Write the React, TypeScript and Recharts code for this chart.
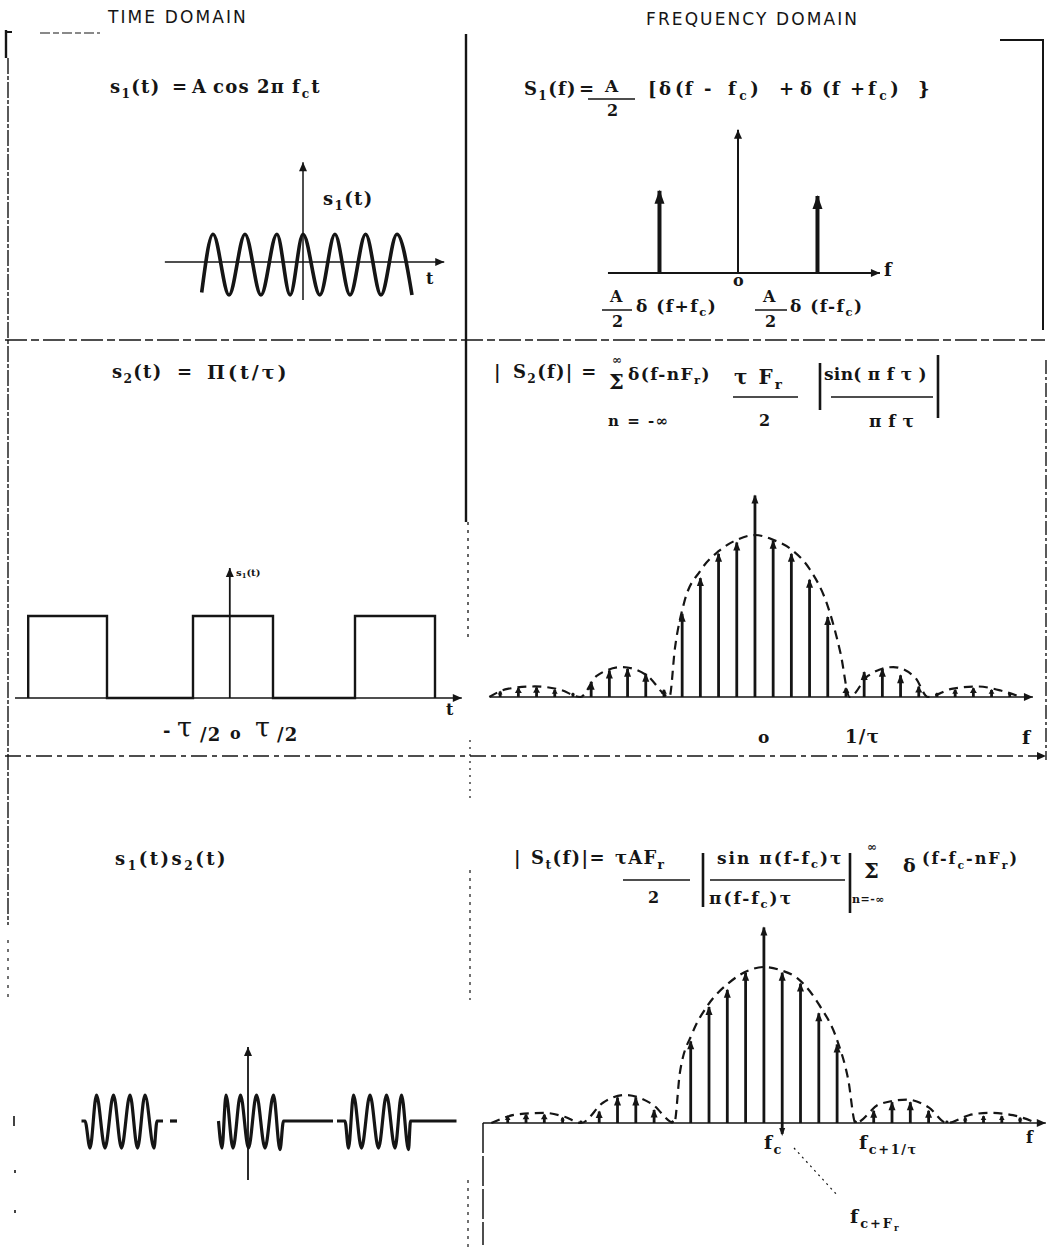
import React from "react";
import { Bar, ComposedChart, Line, XAxis, YAxis } from "recharts";

const INK = "#151515";
const SERIF = '"DejaVu Serif", "Liberation Serif", serif';
const SANS = '"DejaVu Sans", "Liberation Sans", sans-serif';

// ---- s1(t): carrier, t in carrier periods (0 = ordinate), amplitude in units of A
const carrierT = [-3.3, -2.93, -2.41, -1.89, -1.37, -0.85, -0.42, 0, 0.55, 1.04, 1.53, 2.04, 2.54, 3.06, 3.55];
const carrierV = [-1.1, 1, -1.19, 1, -1.19, 1, -1.19, 1, -1.19, 1, -1.19, 1, -1.19, 1, -1.19];
const carrierAxisT = [-4.5, 4.6];
const carrierAxisV = [-1.37, 3.6];

// ---- S1(f): two lines at -fc / +fc
const s1LineF = [-1, 1];
const s1LineA = [1.04, 0.975];
const s1AxisF = [-1.646, 1.797];
const s1AxisA = [0, 1.79];

// ---- s2(t): pulse train, t in units of tau
const pulseT = [-2.56, -2.56, -1.575, -1.575, -0.5, -0.5, 0.5, 0.5, 1.525, 1.525, 2.525, 2.525];
const pulseV = [0, 1, 1, 0, 0, 1, 1, 0, 0, 1, 1, 0];
const pulseAxisT = [-2.725, 2.86];
const pulseAxisV = [0, 1.585];

// ---- |S2(f)|: harmonic number n, relative amplitude
const harmonics = [-14, -13, -12, -11, -10, -9, -8, -7, -6, -5, -4, -3, -2, -1, 0, 1, 2, 3, 4, 5, 6, 7, 8, 9, 10, 11, 12, 13, 14];
const s2Amp = [0.04, 0.06, 0.065, 0.05, 0.03, 0.1, 0.17, 0.18, 0.15, 0.05, 0.52, 0.74, 0.89, 0.96, 1.25, 0.97, 0.89, 0.73, 0.5, 0.06, 0.16, 0.18, 0.14, 0.07, 0.03, 0.05, 0.06, 0.05, 0.03];
const s2EnvN = [-14.6, -13.6, -12.1, -10.7, -9.6, -8.7, -7.3, -5.9, -4.7, -4.4, -3.9, -3, -2, -1, 0, 1, 2, 3, 4, 4.7, 5.2, 6.2, 7.6, 8.8, 9.5, 10.8, 12.2, 13.5, 14.6];
const s2EnvA = [0, 0.05, 0.065, 0.045, 0, 0.13, 0.185, 0.13, 0, 0.3, 0.58, 0.78, 0.9, 0.97, 1, 0.97, 0.91, 0.79, 0.56, 0.27, 0, 0.13, 0.185, 0.12, 0, 0.05, 0.065, 0.04, 0];
const s2AxisN = [-14.56, 15.27];

// ---- s1(t)s2(t): gated carrier, t in tau/13
const burst1 = [[-33.3, 0], [-32.6, 0], [-31.6, -1.04], [-30.3, 1], [-28.6, -1.04], [-26.9, 1], [-25.3, -1.04], [-23.6, 1], [-22.1, -1.04], [-20.6, 1], [-18.8, -1.04], [-18.2, 0], [-17.0, 0]];
const gapDash = [[-15.6, 0], [-14.2, 0]];
const burst2 = [[-5.9, 0], [-5.2, -1.04], [-4.4, 1], [-3.0, -1.04], [-1.5, 1], [0.1, -1.04], [1.7, 1], [3.4, -1.04], [5.1, 1], [6.4, -1.1], [7.1, 0], [17.0, 0]];
const burst3 = [[17.8, 0], [19.4, 0], [20.1, -1.04], [21.1, 1], [22.7, -1.04], [24.4, 1], [26.1, -1.04], [27.7, 1], [29.4, -1.04], [30.7, 1], [32.1, -1.1], [32.5, 0], [41.7, 0]];
const burstAxisV = [-2.27, 2.85];

// ---- |St(f)|: lines around fc, n = (f - fc)/Fr
const stAmp = [0.05, 0.06, 0.06, 0.04, 0.02, 0.08, 0.17, 0.17, 0.09, 0.02, 0.53, 0.75, 0.86, 0.97, 1.26, 0.97, 0.9, 0.71, 0.51, 0.02, 0.085, 0.14, 0.14, 0.085, 0.02, 0.04, 0.05, 0.05, 0.04];
const stLow = [0, 0, 0, 0, 0, 0, 0, 0, 0, 0, 0, 0, 0, 0, 0, -0.07, 0, 0, 0, 0, 0, 0, 0, 0, 0, 0, 0, 0, 0];
const stEnvN = [-14.9, -13.5, -12, -10.9, -10, -8.8, -7.6, -6.1, -4.9, -4.6, -3.9, -3.1, -1.9, -0.8, 0, 0.9, 1.8, 3, 4, 4.6, 5, 6.3, 7.8, 9, 10, 11.2, 12.3, 13.6, 14.9];
const stEnvA = [0, 0.055, 0.065, 0.04, 0, 0.13, 0.18, 0.12, 0, 0.32, 0.58, 0.75, 0.9, 0.98, 1, 0.98, 0.93, 0.76, 0.53, 0.28, 0, 0.12, 0.15, 0.1, 0, 0.05, 0.065, 0.05, 0];
const stAxisN = [-15.36, 15.4];

const pts = (xs: number[], ys: number[]) => xs.map((x, i) => ({ x, y: ys[i] }));
const pairs = (p: number[][]) => p.map(([x, y]) => ({ x, y }));
const hLine = (xs: number[]) => xs.map((x) => ({ x, y: 0 }));
const vLine = (x: number, ys: number[]) => ys.map((y) => ({ x, y }));

function tip(dir: "up" | "right", n: number, len = 9, half = 4) {
  return (p: any) => {
    const { cx, cy, index } = p;
    if (index !== n - 1 || cx == null) return <g key={`d${index}`} />;
    const poly =
      dir === "right"
        ? `${cx},${cy} ${cx - len},${cy - half} ${cx - len},${cy + half}`
        : `${cx},${cy} ${cx - half},${cy + len} ${cx + half},${cy + len}`;
    return <polygon key="tip" points={poly} fill={INK} />;
  };
}

function spike(w: number, len: number, half: number) {
  return (p: any) => {
    const { x, y, width, height, payload } = p;
    if (x == null) return <g />;
    const cx = x + width / 2;
    const top = Math.min(y, y + height);
    const bot = Math.max(y, y + height);
    const l = Math.min(len, (bot - top) * 0.6);
    const h = Math.min(half, l * 0.6);
    return (
      <g>
        <line x1={cx} x2={cx} y1={top + 1} y2={bot} stroke={INK} strokeWidth={w} />
        <polygon points={`${cx},${top} ${cx - h},${top + l} ${cx + h},${top + l}`} fill={INK} />
        {payload.span[0] < 0 && (
          <polygon points={`${cx},${bot + 2} ${cx - 3},${bot - 6} ${cx + 3},${bot - 6}`} fill={INK} />
        )}
      </g>
    );
  };
}

type Box = { left: number; top: number; width: number; height: number };
type Map = { x0: number; xs: number; y0: number; ys: number };

function Panel({ box, map, data, children }: { box: Box; map: Map; data?: any[]; children: React.ReactNode }) {
  const { left, top, width, height } = box;
  const xDom = [(left - map.x0) / map.xs, (left + width - map.x0) / map.xs];
  const yDom = [(map.y0 - (top + height)) / map.ys, (map.y0 - top) / map.ys];
  return (
    <div style={{ position: "absolute", left, top, width, height }}>
      <ComposedChart width={width} height={height} data={data} margin={{ top: 0, right: 0, bottom: 0, left: 0 }}>
        <XAxis type="number" dataKey="x" domain={xDom} hide allowDataOverflow />
        <YAxis type="number" domain={yDom} hide allowDataOverflow />
        {children}
      </ComposedChart>
    </div>
  );
}

const Sb = ({ children }: { children: React.ReactNode }) => (
  <span style={{ fontSize: "0.68em", position: "relative", top: "0.4em" }}>{children}</span>
);

function T({ x, y, s = 18, sans, italic, ls, w, children }: any) {
  return (
    <div
      style={{
        position: "absolute",
        left: x,
        top: y - 0.55 * s,
        fontSize: s,
        lineHeight: `${s}px`,
        fontFamily: sans ? SANS : SERIF,
        fontWeight: w ?? (sans ? 400 : 700),
        fontStyle: italic ? "italic" : "normal",
        letterSpacing: ls ?? (sans ? 0 : 1.3),
        whiteSpace: "pre",
        color: INK,
      }}
    >
      {children}
    </div>
  );
}

const axisLine = (data: any[], dir: "up" | "right", sw = 1.8) => (
  <Line
    data={data}
    dataKey="y"
    type="linear"
    stroke={INK}
    strokeWidth={sw}
    dot={tip(dir, data.length)}
    activeDot={false}
    isAnimationActive={false}
  />
);

export default function App() {
  const s2Spikes = harmonics.map((x, i) => ({ x, span: [0, s2Amp[i]] }));
  const stSpikes = harmonics.map((x, i) => ({ x, span: [stLow[i], stAmp[i]] }));
  const s1Spikes = s1LineF.map((x, i) => ({ x, span: [0, s1LineA[i]] }));

  return (
    <div style={{ position: "absolute", left: 0, top: 0, width: 1051, height: 1255, background: "#fff", overflow: "hidden" }}>
      <svg width={1051} height={1255} style={{ position: "absolute", left: 0, top: 0 }}>
        <g stroke={INK} fill="none">
          <path d="M6 30 V58" strokeWidth={2.4} />
          <path d="M6 32 H12" strokeWidth={2} />
          <path d="M8 58 V925" strokeWidth={1.4} strokeDasharray="16 2 4 2" />
          <path d="M8 940 V1000" strokeWidth={1.2} strokeDasharray="3 6" />
          <path d="M40 33 H100" strokeWidth={1.2} strokeDasharray="10 3 6 3" />
          <path d="M1000 40 H1043 V330" strokeWidth={2} />
          <path d="M1046 360 V760" strokeWidth={1.4} strokeDasharray="14 3 3 3" />
          <path d="M466 34 V522" strokeWidth={2.4} />
          <path d="M468 522 V640" strokeWidth={1.3} strokeDasharray="3 5" />
          <path d="M470 740 V800" strokeWidth={1.2} strokeDasharray="2 5" />
          <path d="M470 870 V1000" strokeWidth={1.2} strokeDasharray="3 5" />
          <path d="M468 1180 V1250" strokeWidth={1.2} strokeDasharray="3 5" />
          <path d="M5 340 H1045" strokeWidth={1.3} strokeDasharray="22 4 8 4" />
          <path d="M5 756 H1040" strokeWidth={1.3} strokeDasharray="16 5 5 5" />
          <path d="M483 1123 V1245" strokeWidth={1.5} strokeDasharray="30 3" />
          <path d="M794 1148 L838 1196" strokeWidth={1.2} strokeDasharray="2 4" />
          <path d="M14 1116 V1126 M15 1170 V1173 M15 1210 V1213" strokeWidth={1.6} />
          {/* fraction and modulus bars */}
          <path d="M588 99 H635 M602 310 H632 M755 310 H787" strokeWidth={1.4} />
          <path d="M733 397 H798 M831 397 H933" strokeWidth={1.4} />
          <path d="M820 363 V410 M938 355 V418" strokeWidth={2.6} />
          <path d="M623 880 H690 M710 880 H845" strokeWidth={1.4} />
          <path d="M703 853 V907 M850 853 V913" strokeWidth={2.6} />
        </g>
        <polygon points="1046,756 1037,752 1037,760" fill={INK} />
      </svg>

      {/* s1(t) */}
      <Panel box={{ left: 140, top: 140, width: 330, height: 180 }} map={{ x0: 303, xs: 30.7, y0: 262, ys: 27.7 }}>
        {axisLine(hLine(carrierAxisT), "right", 1.6)}
        {axisLine(vLine(0, carrierAxisV), "up", 1.5)}
        <Line data={pts(carrierT, carrierV)} dataKey="y" type="monotone" stroke={INK} strokeWidth={3.6} dot={false} activeDot={false} isAnimationActive={false} />
      </Panel>

      {/* S1(f) */}
      <Panel box={{ left: 580, top: 110, width: 320, height: 200 }} map={{ x0: 738, xs: 79, y0: 273, ys: 80 }} data={s1Spikes}>
        {axisLine(hLine(s1AxisF), "right", 2)}
        {axisLine(vLine(0, s1AxisA), "up", 2)}
        <Bar dataKey="span" barSize={8} shape={spike(4, 14, 5)} isAnimationActive={false} />
      </Panel>

      {/* s2(t) */}
      <Panel box={{ left: 0, top: 540, width: 480, height: 190 }} map={{ x0: 233, xs: 80, y0: 698, ys: 82 }}>
        {axisLine(hLine(pulseAxisT), "right", 1.6)}
        {axisLine(vLine(-0.04, pulseAxisV), "up", 1.8)}
        <Line data={pts(pulseT, pulseV)} dataKey="y" type="linear" stroke={INK} strokeWidth={2.4} dot={false} activeDot={false} isAnimationActive={false} />
      </Panel>

      {/* |S2(f)| */}
      <Panel box={{ left: 470, top: 470, width: 581, height: 250 }} map={{ x0: 755, xs: 18.2, y0: 697, ys: 162 }} data={s2Spikes}>
        {axisLine(hLine(s2AxisN), "right", 1.6)}
        <Line data={pts(s2EnvN, s2EnvA)} dataKey="y" type="monotone" stroke={INK} strokeWidth={2.2} strokeDasharray="9 6" dot={false} activeDot={false} isAnimationActive={false} />
        <Bar dataKey="span" barSize={6} shape={spike(2.8, 9, 3.5)} isAnimationActive={false} />
      </Panel>

      {/* s1(t)s2(t) */}
      <Panel box={{ left: 60, top: 1030, width: 420, height: 170 }} map={{ x0: 248, xs: 5, y0: 1121, ys: 26 }}>
        {[burst1, gapDash, burst2, burst3].map((seg, i) => (
          <Line key={i} data={pairs(seg)} dataKey="y" type="monotone" stroke={INK} strokeWidth={3.2} dot={false} activeDot={false} isAnimationActive={false} />
        ))}
        {axisLine(vLine(0, burstAxisV), "up", 1.8)}
      </Panel>

      {/* |St(f)| */}
      <Panel box={{ left: 470, top: 900, width: 581, height: 260 }} map={{ x0: 764, xs: 18.3, y0: 1123, ys: 156 }} data={stSpikes}>
        {axisLine(hLine(stAxisN), "right", 1.6)}
        <Line data={pts(stEnvN, stEnvA)} dataKey="y" type="monotone" stroke={INK} strokeWidth={2.2} strokeDasharray="9 6" dot={false} activeDot={false} isAnimationActive={false} />
        <Bar dataKey="span" barSize={6} shape={spike(2.8, 9, 3.5)} isAnimationActive={false} />
      </Panel>

      {/* headings */}
      <T x={108} y={18} s={17} sans ls={2.1}>TIME DOMAIN</T>
      <T x={646} y={20} s={17} sans ls={2.1}>FREQUENCY DOMAIN</T>

      {/* s1(t) texts */}
      <T x={110} y={88}>s<Sb>1</Sb>(t)</T>
      <T x={172} y={88}>=</T>
      <T x={192} y={88}>A</T>
      <T x={213} y={88}>cos</T>
      <T x={257} y={88}>2π</T>
      <T x={292} y={88} ls={2}>f<Sb>c</Sb>t</T>
      <T x={323} y={200}>s<Sb>1</Sb>(t)</T>
      <T x={426} y={280} s={16}>t</T>

      {/* S1(f) texts */}
      <T x={524} y={90}>S<Sb>1</Sb>(f)</T>
      <T x={579} y={90} ls={0}>=</T>
      <T x={605} y={87} s={17}>A</T>
      <T x={607} y={112} s={16}>2</T>
      <T x={648} y={90}>[</T>
      <T x={659} y={90}>δ</T>
      <T x={675} y={90}>(f</T>
      <T x={704} y={90}>-</T>
      <T x={728} y={90} ls={3.5}>f<Sb>c</Sb>)</T>
      <T x={779} y={90}>+</T>
      <T x={800} y={90}>δ</T>
      <T x={822} y={90}>(f</T>
      <T x={850} y={90}>+</T>
      <T x={868} y={90} ls={3.5}>f<Sb>c</Sb>)</T>
      <T x={918} y={90}>{"}"}</T>
      <T x={733} y={282} s={16}>o</T>
      <T x={884} y={271}>f</T>
      <T x={610} y={298} s={16}>A</T>
      <T x={612} y={323} s={16}>2</T>
      <T x={636} y={307} s={17} ls={1.5}>δ (f+f<Sb>c</Sb>)</T>
      <T x={763} y={298} s={16}>A</T>
      <T x={765} y={323} s={16}>2</T>
      <T x={790} y={307} s={17} ls={1.5}>δ (f-f<Sb>c</Sb>)</T>

      {/* s2(t) texts */}
      <T x={112} y={373}>s<Sb>2</Sb>(t)</T>
      <T x={177} y={373}>=</T>
      <T x={207} y={373} s={19} ls={3}>Π(t/τ)</T>
      <T x={236} y={573} s={10} ls={0}>s<Sb>1</Sb>(t)</T>
      <T x={446} y={711} s={16}>t</T>
      <T x={163} y={732}>-</T>
      <T x={177} y={729} s={27} w={400}>τ</T>
      <T x={200} y={736}>/2</T>
      <T x={230} y={735} s={16}>o</T>
      <T x={255} y={729} s={27} w={400}>τ</T>
      <T x={277} y={736}>/2</T>

      {/* |S2(f)| texts */}
      <T x={494} y={373} italic>|</T>
      <T x={513} y={373}>S<Sb>2</Sb>(f)| =</T>
      <T x={609} y={383} s={21}>Σ</T>
      <T x={612} y={361} s={12}>∞</T>
      <T x={628} y={375} s={17} ls={1.4}>δ(f-nF<Sb>r</Sb>)</T>
      <T x={734} y={378} s={20} ls={2}>τ F<Sb>r</Sb></T>
      <T x={759} y={422} s={16}>2</T>
      <T x={608} y={422} s={15} ls={1.5}>n = -∞</T>
      <T x={824} y={375} s={17} ls={0.3}>sin( π f τ )</T>
      <T x={869} y={422} s={17} ls={0.5}>π f τ</T>
      <T x={758} y={738} s={17}>o</T>
      <T x={845} y={738}>1/τ</T>
      <T x={1022} y={738} s={19}>f</T>

      {/* s1(t)s2(t) text */}
      <T x={115} y={860} ls={2.5}>s<Sb>1</Sb>(t)s<Sb>2</Sb>(t)</T>

      {/* |St(f)| texts */}
      <T x={514} y={859} italic>|</T>
      <T x={531} y={859} ls={1.4}>S<Sb>t</Sb>(f)|=</T>
      <T x={615} y={859} ls={1.2}>τAF<Sb>r</Sb></T>
      <T x={648} y={899} s={16}>2</T>
      <T x={717} y={859} s={17} ls={2}>sin π(f-f<Sb>c</Sb>)τ</T>
      <T x={709} y={899} s={17} ls={2}>π(f-f<Sb>c</Sb>)τ</T>
      <T x={864} y={872} s={21}>Σ</T>
      <T x={867} y={848} s={12}>∞</T>
      <T x={852} y={900} s={11} ls={0.5}>n=-∞</T>
      <T x={903} y={866} s={19}>δ</T>
      <T x={922} y={860} s={16} ls={2}>(f-f<Sb>c</Sb>-nF<Sb>r</Sb>)</T>
      <T x={764} y={1143} s={19}>f<Sb>c</Sb></T>
      <T x={859} y={1143} s={19} ls={1.6}>f<Sb>c+1/τ</Sb></T>
      <T x={1026} y={1139} s={16}>f</T>
      <T x={850} y={1217} s={19} ls={2}>f<Sb>c+F<Sb>r</Sb></Sb></T>
    </div>
  );
}
